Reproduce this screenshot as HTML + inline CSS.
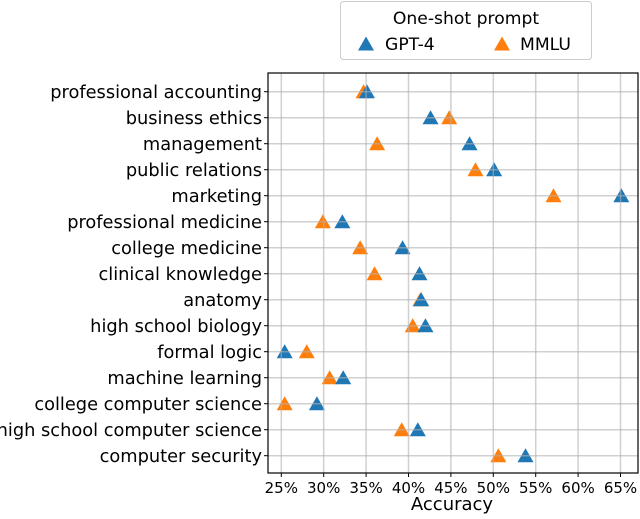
<!DOCTYPE html>
<html><head><meta charset="utf-8"><style>
body{margin:0;background:#fff;font-family:"Liberation Sans","DejaVu Sans",sans-serif}
svg text{font-family:"DejaVu Sans","Liberation Sans",sans-serif}
</style></head><body>
<svg id="chart" width="640" height="514" viewBox="0 0 640 514"></svg>
<script>
const categories=["professional accounting","business ethics","management","public relations","marketing","professional medicine","college medicine","clinical knowledge","anatomy","high school biology","formal logic","machine learning","college computer science","high school computer science","computer security"];
const gpt4=[35.1,42.6,47.2,50.1,65.1,32.2,39.3,41.3,41.5,42.0,25.4,32.3,29.2,41.1,53.8];
const mmlu=[34.7,44.8,36.3,47.9,57.1,29.9,34.3,36.0,41.4,40.5,28.0,30.7,25.4,39.2,50.6];
const xTicks=[25,30,35,40,45,50,55,60,65];
const NS="http://www.w3.org/2000/svg";
const svg=document.getElementById('chart');
const L=268,R=638,T=73,B=473;
const x=v=>281.3+(v-25)*8.48;
const y=i=>91.7+i*26;
function mk(t,a,p){const e=document.createElementNS(NS,t);for(const k in a)e.setAttribute(k,a[k]);(p||svg).appendChild(e);return e;}
function tri(cx,cy,c,p){return mk('polygon',{points:`${cx},${cy-7.5} ${cx-8},${cy+6.5} ${cx+8},${cy+6.5}`,fill:c},p);}
const gm=mk('g',{});


categories.forEach((c,i)=>{
  const a=tri(x(mmlu[i]),y(i),'#ff7f0e',gm);
  
  
  const b=tri(x(gpt4[i]),y(i),'#1f77b4',gm);
  
  
});
const gg=mk('g',{stroke:'#b0b0b0','stroke-opacity':0.6,'stroke-width':1.5});


xTicks.forEach(t=>mk('line',{x1:x(t),x2:x(t),y1:T,y2:B},gg));
categories.forEach((c,i)=>mk('line',{x1:L,x2:R,y1:y(i),y2:y(i)},gg));
const ax=mk('rect',{x:L,y:T,width:R-L,height:B-T,fill:'none',stroke:'#000','stroke-width':1.2});


categories.forEach((c,i)=>{
  mk('line',{x1:L-4,x2:L,y1:y(i),y2:y(i),stroke:'#000'});
  const t=mk('text',{x:L-6,y:y(i)+6.5,'text-anchor':'end','font-size':17.8,fill:'#000'});
  t.textContent=c;
  
  
});
xTicks.forEach(v=>{
  mk('line',{x1:x(v),x2:x(v),y1:B,y2:B+4,stroke:'#000'});
  const t=mk('text',{x:x(v),y:B+20,'text-anchor':'middle','font-size':15,fill:'#000'});
  t.textContent=v+'%';
  
  
});
const xt=mk('text',{x:452,y:510,'text-anchor':'middle','font-size':18,fill:'#000'});
xt.textContent='Accuracy';


const lg=mk('g',{});


mk('rect',{x:340.5,y:1.5,width:251,height:58,rx:3,fill:'#fff',stroke:'#ccc'},lg);
const lt=mk('text',{x:466,y:24,'text-anchor':'middle','font-size':17.2},lg);
lt.textContent='One-shot prompt';


tri(366,44,'#1f77b4',lg);
const l1=mk('text',{x:385,y:50,'font-size':17.2},lg);l1.textContent='GPT-4';


tri(502,44,'#ff7f0e',lg);
const l2=mk('text',{x:520,y:50,'font-size':17.2},lg);l2.textContent='MMLU';


</script>
</body></html>
